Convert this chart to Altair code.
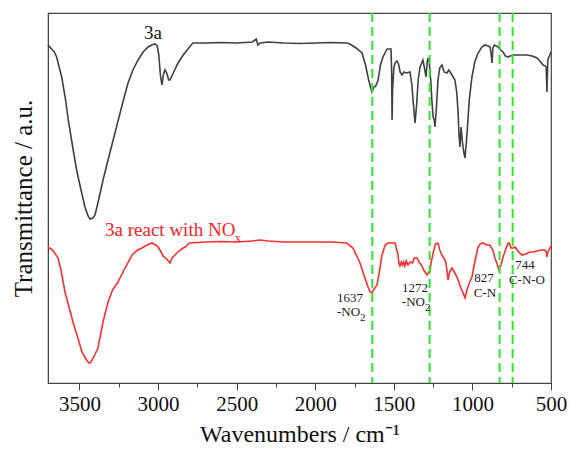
import altair as alt
import pandas as pd

# ---- data (wavenumber cm-1, transmittance a.u.) ----
black_w = [3700, 3660, 3645, 3613, 3590, 3571, 3545, 3518, 3490, 3465, 3445, 3432, 3415, 3401,
           3375, 3350, 3310, 3274, 3230, 3191, 3160, 3127, 3095, 3064, 3040, 3020, 3005, 2995,
           2985, 2975, 2965, 2956, 2945, 2932, 2924, 2900, 2873, 2840, 2800, 2778, 2700, 2600,
           2500, 2400, 2375, 2365, 2350, 2300, 2200, 2100, 2000, 1900, 1800, 1779, 1740, 1702,
           1680, 1660, 1640, 1625, 1615, 1600, 1585, 1569, 1543, 1518, 1514, 1511, 1508, 1500,
           1492, 1480, 1470, 1460, 1448, 1435, 1420, 1397, 1385, 1375, 1365, 1355, 1345, 1333,
           1315, 1305, 1295, 1288, 1282, 1275, 1265, 1258, 1250, 1243, 1238, 1230, 1219, 1208,
           1194, 1180, 1162, 1150, 1130, 1111, 1100, 1092, 1085, 1079, 1072, 1065, 1055, 1047,
           1040, 1034, 1020, 1003, 985, 964, 940, 920, 900, 888, 880, 875, 870, 860, 837, 820,
           805, 790, 773, 760, 741, 700, 653, 620, 589, 565, 551, 535, 530, 526, 520, 513, 500]
black_t = [338, 331, 326, 306, 285, 263, 238, 213, 193, 176, 167, 164, 165, 168,
           185, 203, 228, 250, 277, 300, 313, 323, 331, 336, 338, 339, 337, 328,
           308, 298, 309, 313, 310, 303, 303, 311, 320, 328, 336, 340, 340, 340.5,
           340, 341, 344, 338, 340, 341, 340, 339.5, 340, 340.5, 340, 339, 335, 330,
           318, 303, 291, 296, 297, 303, 318, 326, 334, 334, 313, 263, 293, 315,
           320, 322, 319, 311, 308, 311, 310, 311, 298, 278, 260, 278, 303, 316,
           323, 315, 306, 321, 325, 321, 303, 283, 266, 263, 256, 273, 303, 315,
           318, 311, 310, 313, 308, 303, 291, 273, 248, 236, 256, 243, 231, 225,
           238, 250, 283, 306, 321, 330, 336, 338, 337, 336, 328, 320, 335, 338, 336, 333,
           331, 327, 326, 327, 328, 328, 328, 327, 325, 321, 318, 317, 315, 291, 323, 326, 331]

red_w = [3700, 3670, 3636, 3615, 3592, 3565, 3541, 3510, 3484, 3455, 3440, 3432, 3420, 3400,
         3382, 3350, 3318, 3290, 3255, 3210, 3165, 3130, 3102, 3070, 3038, 3015, 3000, 2980,
         2968, 2945, 2924, 2910, 2880, 2850, 2828, 2800, 2700, 2600, 2500, 2400, 2350, 2300,
         2200, 2100, 2000, 1900, 1800, 1760, 1715, 1690, 1664, 1650, 1640, 1625, 1607, 1590,
         1575, 1555, 1537, 1510, 1492, 1482, 1475, 1468, 1461, 1452, 1445, 1437, 1430, 1421,
         1410, 1395, 1380, 1370, 1352, 1340, 1325, 1310, 1289, 1278, 1270, 1262, 1250, 1235,
         1219, 1208, 1194, 1182, 1170, 1162, 1155, 1145, 1130, 1115, 1098, 1080, 1060, 1047,
         1035, 1020, 1003, 985, 964, 950, 933, 910, 890, 870, 857, 845, 831, 818, 805, 790,
         773, 765, 755, 748, 737, 729, 715, 700, 684, 660, 635, 614, 590, 560, 538, 530, 526,
         520, 507, 500]
red_t = [136, 133, 125, 111, 91, 75, 61, 45, 31, 23, 20, 20, 23, 29,
         35, 61, 81, 93, 101, 115, 128, 133, 135, 138, 140, 138, 136, 131,
         127, 124, 120, 125, 130, 134, 136, 140, 141, 141.5, 141, 142, 143, 142,
         141, 141, 141, 141, 140, 135, 120, 108, 96, 91, 90, 94, 98, 113,
         128, 138, 140, 140, 140, 133, 130, 120, 117, 121, 118, 121, 117, 122,
         118, 121, 120, 125, 125, 121, 118, 113, 108, 111, 111, 121, 130, 139,
         140, 133, 128, 125, 121, 113, 103, 111, 115, 111, 106, 98, 90, 85,
         93, 100, 106, 121, 136, 139, 140, 138, 138, 133, 125, 120, 113, 118, 126, 133,
         140, 140, 135, 135, 135, 136, 133, 130, 128, 129, 131, 131, 132, 133, 133, 131, 126,
         131, 135, 137]

peak_w = [1637, 1272, 827, 744]
tick_values = [3500, 3250, 3000, 2750, 2500, 2250, 2000, 1750, 1500, 1250, 1000, 750, 500]

# annotations: text, wavenumber, transmittance
center_text = ["1637", "1272", "827", "C-N", "744", "C-N-O"]
center_w = [1779, 1365, 926, 920, 665, 653]
center_t = [85, 95, 105, 90, 118, 103]
no2_w = [1715, 1302]
no2_t = [71, 81]
sub2_t = [65, 75]

black_df = pd.DataFrame({"w": black_w, "t": black_t})
red_df = pd.DataFrame({"w": red_w, "t": red_t})
peak_df = pd.DataFrame({"w": peak_w})

FONT = "Liberation Serif"
x_scale = alt.Scale(domain=[3700, 500], nice=False, zero=False)
y_scale = alt.Scale(domain=[0, 370], nice=False, zero=False)

x_enc = alt.X("w:Q", scale=x_scale, title="Wavenumbers / cm⁻¹",
              axis=alt.Axis(values=tick_values,
                            labelExpr="datum.value % 500 === 0 ? datum.label : ''",
                            tickSize={"condition": {"test": "datum.value % 500 === 0", "value": 7}, "value": 4},
                            grid=False, labelFontSize=21, titleFontSize=24, labelFont=FONT,
                            titleFont=FONT, titleFontWeight="normal", labelColor="#111",
                            titleColor="#111", tickColor="#444", domainColor="#444",
                            labelPadding=3, titlePadding=8, format="d", labelFlush=False,
                            labelOverlap=False))
y_enc = alt.Y("t:Q", scale=y_scale, title="Transmittance / a.u.",
              axis=alt.Axis(labels=False, ticks=False, grid=False, domain=True,
                            domainColor="#444", titleFont=FONT, titleFontSize=25,
                            titleFontWeight="normal", titleColor="#111",
                            titleAngle=270, titleAlign="center", titleBaseline="middle",
                            titleX=-25, titleY=185))

black_line = alt.Chart(black_df).mark_line(color="#404040", strokeWidth=1.6).encode(x=x_enc, y=y_enc)
red_line = alt.Chart(red_df).mark_line(color="#FF2E2E", strokeWidth=1.6).encode(x="w:Q", y="t:Q")

rules = alt.Chart(peak_df).mark_rule(color="#2EE62E", strokeWidth=2, strokeDash=[9, 5]).encode(x="w:Q")

c_df = pd.DataFrame({"w": center_w, "t": center_t, "txt": center_text})
center_labels = alt.Chart(c_df).mark_text(font=FONT, fontSize=13, color="#1a1a1a",
                                          align="center", baseline="middle").encode(
    x="w:Q", y="t:Q", text="txt:N")

no_df = pd.DataFrame({"w": no2_w, "t": no2_t, "txt": ["-NO", "-NO"]})
no_labels = alt.Chart(no_df).mark_text(font=FONT, fontSize=13, color="#1a1a1a",
                                       align="right", baseline="middle").encode(
    x="w:Q", y="t:Q", text="txt:N")
sub_df = pd.DataFrame({"w": no2_w, "t": sub2_t, "txt": ["2", "2"]})
sub_labels = alt.Chart(sub_df).mark_text(font=FONT, fontSize=11, color="#1a1a1a",
                                         align="left", baseline="middle").encode(
    x="w:Q", y="t:Q", text="txt:N")

label_3a = alt.Chart(pd.DataFrame({"w": [3032], "t": [350], "txt": ["3a"]})).mark_text(
    font=FONT, fontSize=19, color="#111", align="center", baseline="middle").encode(
    x="w:Q", y="t:Q", text="txt:N")
label_red = alt.Chart(pd.DataFrame({"w": [3337], "t": [153], "txt": ["3a react with NO"]})).mark_text(
    font=FONT, fontSize=19, color="#FF2020", align="left", baseline="middle").encode(
    x="w:Q", y="t:Q", text="txt:N")
label_x = alt.Chart(pd.DataFrame({"w": [2512], "t": [145], "txt": ["x"]})).mark_text(
    font=FONT, fontSize=13, color="#FF2020", align="left", baseline="middle").encode(
    x="w:Q", y="t:Q", text="txt:N")

chart = alt.layer(black_line, red_line, rules, center_labels, no_labels, sub_labels,
                  label_3a, label_red, label_x).properties(
    width=503, height=370,
    autosize=alt.AutoSizeParams(type="none"),
    padding={"left": 48, "top": 13, "right": 18, "bottom": 73},
    background="white",
).configure_view(stroke="#444", strokeWidth=1.2)

chart.save("out.html", embed_options={"renderer": "svg", "actions": False})
